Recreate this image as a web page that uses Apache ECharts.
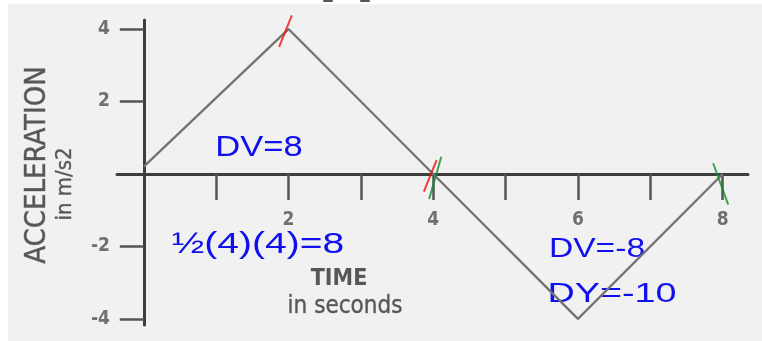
<!DOCTYPE html>
<html>
<head>
<meta charset="utf-8">
<script src="https://cdn.jsdelivr.net/npm/echarts@6/dist/echarts.min.js"></script>
<style>
  html, body { margin: 0; padding: 0; background: #ffffff; }
  #wrap { position: relative; width: 762px; height: 341px; overflow: hidden; }
  #paper { position: absolute; left: 8px; top: 4px; right: 0; bottom: 0; background: #f1f1f1; }
  #chart { position: absolute; left: 0; top: 0; width: 762px; height: 341px; }
</style>
</head>
<body>
<div id="wrap">
  <div id="paper"></div>
  <div id="chart"></div>
</div>
<script>
// Acceleration vs time (seconds)
const timeValues = [0, 2, 4, 6, 8];
const accelValues = [0.2, 4, 0, -4, 0];

// Axis ticks and labels
const xTickValues = [1, 2, 3, 4, 5, 6, 7, 8];
const xLabelValues = [2, 4, 6, 8];
const yTickValues = [-4, -2, 2, 4];

// Hand-drawn check marks on the curve
const redMarks = [[2, 4], [4, 0]];
const greenMarks = [[4, 0], [8, 0]];

const axisColor = '#3d3d3d';
const labelColor = '#707070';
const titleColor = '#575757';
const inkBlue = '#1010ee';
const cond = '"DejaVu Sans Condensed", "DejaVu Sans", sans-serif';
const hand = '"Liberation Sans", "DejaVu Sans", sans-serif';

const chart = echarts.init(document.getElementById('chart'), null, { renderer: 'canvas' });

chart.setOption({
  animation: false,
  backgroundColor: 'transparent',
  grid: { left: 117, right: 14, top: 20, bottom: 16, containLabel: false, outerBoundsMode: 'none' },
  xAxis: {
    type: 'value',
    min: -0.37,
    max: 8.35,
    splitLine: { show: false },
    axisLine: { onZero: true, lineStyle: { color: axisColor, width: 3 } },
    axisTick: {
      customValues: xTickValues,
      length: 26,
      lineStyle: { color: '#555555', width: 2.5 }
    },
    axisLabel: {
      customValues: xLabelValues,
      inside: true,
      margin: 95,
      color: labelColor,
      fontSize: 19,
      fontWeight: 'bold',
      fontFamily: cond
    }
  },
  yAxis: {
    type: 'value',
    min: -4.17,
    max: 4.25,
    splitLine: { show: false },
    axisLine: { onZero: true, lineStyle: { color: axisColor, width: 3 } },
    axisTick: {
      customValues: yTickValues,
      length: 24,
      lineStyle: { color: '#555555', width: 2.5 }
    },
    axisLabel: {
      customValues: yTickValues,
      margin: 7,
      color: labelColor,
      fontSize: 19,
      fontWeight: 'bold',
      fontFamily: cond
    }
  },
  series: [
    {
      type: 'line',
      data: timeValues.map((t, i) => [t, accelValues[i]]),
      showSymbol: false,
      lineStyle: { color: '#737373', width: 2.3 },
      z: 3
    },
    {
      type: 'scatter',
      data: redMarks,
      symbol: 'rect',
      symbolSize: [2, 34],
      symbolRotate: -22,
      symbolOffset: [-3, 2],
      itemStyle: { color: '#ee1010' },
      z: 5
    },
    {
      type: 'scatter',
      data: greenMarks,
      symbol: 'rect',
      symbolSize: [2, 44],
      itemStyle: { color: '#10902a' },
      z: 6
    }
  ],
  graphic: [
    // clipped remains of a heading above the plot
    { type: 'rect', shape: { x: 323, y: 0, width: 10, height: 2, r: 1 }, style: { fill: '#555' } },
    { type: 'rect', shape: { x: 360, y: 0, width: 10, height: 2, r: 1 }, style: { fill: '#555' } },
    {
      type: 'text', x: 37, y: 165, rotation: Math.PI / 2,
      style: { text: 'ACCELERATION', fill: titleColor, stroke: '#8a8a8a', lineWidth: 0.6, font: '29px ' + cond, textAlign: 'center', textVerticalAlign: 'middle' }
    },
    {
      type: 'text', x: 65, y: 184, rotation: Math.PI / 2,
      style: { text: 'in m/s2', fill: titleColor, stroke: '#8a8a8a', lineWidth: 0.5, font: '22px ' + cond, textAlign: 'center', textVerticalAlign: 'middle' }
    },
    {
      type: 'text', x: 339, y: 279,
      style: { text: 'TIME', fill: titleColor, font: 'bold 23px ' + cond, textAlign: 'center', textVerticalAlign: 'middle' }
    },
    {
      type: 'text', x: 345, y: 307,
      style: { text: 'in seconds', fill: titleColor, stroke: '#8a8a8a', lineWidth: 0.5, font: '24px ' + cond, textAlign: 'center', textVerticalAlign: 'middle' }
    },
    {
      type: 'text', x: 259, y: 148, scaleX: 1.15,
      style: { text: 'DV=8', fill: inkBlue, font: '30px ' + hand, textAlign: 'center', textVerticalAlign: 'middle' }
    },
    {
      type: 'text', x: 258, y: 245, scaleX: 1.3,
      style: { text: '½(4)(4)=8', fill: inkBlue, font: '30px ' + hand, textAlign: 'center', textVerticalAlign: 'middle' }
    },
    {
      type: 'text', x: 597, y: 249, scaleX: 1.2,
      style: { text: 'DV=-8', fill: inkBlue, font: '28px ' + hand, textAlign: 'center', textVerticalAlign: 'middle' }
    },
    {
      type: 'text', x: 612, y: 294, scaleX: 1.35,
      style: { text: 'DY=-10', fill: inkBlue, font: '28px ' + hand, textAlign: 'center', textVerticalAlign: 'middle' }
    }
  ]
});

// Each green mark leans its own way and sits a little low on the axis
chart.setOption({
  series: [{}, {}, {
    symbolRotate: function (value) { return value[0] === 8 ? 20 : -16; },
    symbolOffset: function (value) { return value[0] === 8 ? [-2, 10] : [2, 4]; }
  }]
});
</script>
</body>
</html>
